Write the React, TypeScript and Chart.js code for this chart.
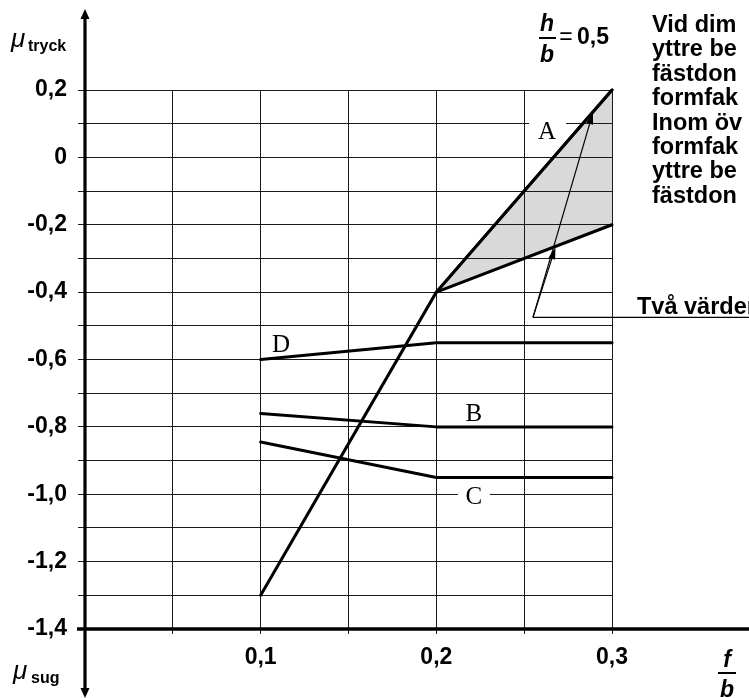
import React, { useEffect, useRef } from 'react';
import { Chart, registerables } from 'chart.js';

Chart.register(...registerables);

// ---- data ----
const lineX = [0.1, 0.2, 0.3];
const steepLineY = [-1.3, -0.4, 0.2];
const fanX = [0.2, 0.3];
const fanUpperY = [-0.4, 0.2];
const fanLowerY = [-0.4, -0.2];
const curveD = [-0.6, -0.55, -0.55];
const curveB = [-0.76, -0.8, -0.8];
const curveC = [-0.845, -0.95, -0.95];

const xTickValues = [0.1, 0.2, 0.3];
const xTickLabels = ['0,1', '0,2', '0,3'];
const yTickValues = [0.2, 0, -0.2, -0.4, -0.6, -0.8, -1.0, -1.2, -1.4];
const yTickLabels = ['0,2', '0', '-0,2', '-0,4', '-0,6', '-0,8', '-1,0', '-1,2', '-1,4'];

const curveNames = ['A', 'B', 'C', 'D'];
const noteLines = [
  'Vid dim',
  'yttre be',
  'fästdon',
  'formfak',
  'Inom öv',
  'formfak',
  'yttre be',
  'fästdon',
];
const twoValuesText = 'Två värden';

const SANS = '"Liberation Sans", Arial, Helvetica, sans-serif';
const SERIF = '"Liberation Serif", "Times New Roman", serif';
const GRID = '#1a1a1a';

function labelFor(v: number, values: number[], labels: string[]) {
  for (let i = 0; i < values.length; i++) {
    if (Math.abs(values[i] - v) < 1e-6) return labels[i];
  }
  return '';
}

function arrowHead(ctx: CanvasRenderingContext2D, x1: number, y1: number, x2: number, y2: number, len: number, half: number) {
  const a = Math.atan2(y2 - y1, x2 - x1);
  const c = Math.cos(a), s = Math.sin(a);
  ctx.beginPath();
  ctx.moveTo(x2, y2);
  ctx.lineTo(x2 - len * c + half * s, y2 - len * s - half * c);
  ctx.lineTo(x2 - len * c - half * s, y2 - len * s + half * c);
  ctx.closePath();
  ctx.fill();
}

function arrowLine(ctx: CanvasRenderingContext2D, x1: number, y1: number, x2: number, y2: number, len: number, half: number) {
  const a = Math.atan2(y2 - y1, x2 - x1);
  ctx.beginPath();
  ctx.moveTo(x1, y1);
  ctx.lineTo(x2 - Math.cos(a) * len * 0.7, y2 - Math.sin(a) * len * 0.7);
  ctx.stroke();
  arrowHead(ctx, x1, y1, x2, y2, len, half);
}

const overlayPlugin = {
  id: 'overlay',
  beforeDatasetsDraw(chart: any) {
    const { ctx, scales } = chart;
    const xs = scales.x, ys = scales.y;
    ctx.save();
    ctx.fillStyle = '#ffffff';
    // gaps in grid lines around labels A and C
    const ax = xs.getPixelForValue(0.263), ay = ys.getPixelForValue(0.1);
    ctx.fillRect(ax - 18, ay - 6, 37, 12);
    const cx = xs.getPixelForValue(0.2214), cy = ys.getPixelForValue(-1.0);
    ctx.fillRect(cx - 16, cy - 6, 32, 12);
    ctx.restore();
  },
  afterDatasetsDraw(chart: any) {
    const { ctx, scales } = chart;
    const xs = scales.x, ys = scales.y;
    ctx.save();
    ctx.fillStyle = '#000';
    ctx.font = `25px ${SERIF}`;
    ctx.textAlign = 'center';
    ctx.textBaseline = 'alphabetic';
    const pos: Record<string, [number, number]> = {
      A: [0.263, 0.08],
      B: [0.2214, -0.757],
      C: [0.2214, -1.003],
      D: [0.1116, -0.552],
    };
    curveNames.forEach((n) => {
      const [vx, vy] = pos[n];
      ctx.fillText(n, xs.getPixelForValue(vx), ys.getPixelForValue(vy) + 8.5);
    });

    // leader lines "Två värden"
    ctx.strokeStyle = '#000';
    ctx.lineWidth = 1.2;
    const lx = xs.getPixelForValue(0.255), ly = ys.getPixelForValue(-0.475);
    ctx.beginPath();
    ctx.moveTo(lx, ly);
    ctx.lineTo(chart.width, ly);
    ctx.stroke();
    arrowLine(ctx, lx, ly, xs.getPixelForValue(0.2892), ys.getPixelForValue(0.134), 12, 3.5);
    arrowLine(ctx, lx, ly, xs.getPixelForValue(0.2678), ys.getPixelForValue(-0.267), 12, 3.5);
    ctx.restore();
  },
  afterDraw(chart: any) {
    const { ctx, scales } = chart;
    const xs = scales.x, ys = scales.y;
    const x0 = xs.getPixelForValue(0);
    const yb = ys.getPixelForValue(-1.4);
    ctx.save();
    ctx.strokeStyle = '#000';
    ctx.fillStyle = '#000';
    // y axis with arrows at both ends
    ctx.lineWidth = 3.2;
    ctx.beginPath();
    ctx.moveTo(x0, 16);
    ctx.lineTo(x0, 690);
    ctx.stroke();
    arrowHead(ctx, x0, 30, x0, 9, 10, 4.5);
    arrowHead(ctx, x0, 680, x0, 698, 10, 4.5);
    // x axis
    ctx.lineWidth = 3.5;
    ctx.beginPath();
    ctx.moveTo(x0 - 8, yb);
    ctx.lineTo(chart.width, yb);
    ctx.stroke();

    // axis titles
    ctx.textAlign = 'left';
    ctx.textBaseline = 'alphabetic';
    ctx.font = `italic 26px ${SANS}`;
    ctx.fillText('μ', 11, 47);
    ctx.font = `bold 16px ${SANS}`;
    ctx.fillText('tryck', 28, 51);
    ctx.font = `italic 26px ${SANS}`;
    ctx.fillText('μ', 13, 679);
    ctx.font = `bold 16px ${SANS}`;
    ctx.fillText('sug', 31, 683);

    // f/b
    ctx.textAlign = 'center';
    ctx.font = `italic bold 23px ${SANS}`;
    ctx.fillText('f', 727, 667);
    ctx.fillText('b', 727, 697);
    ctx.lineWidth = 2;
    ctx.beginPath();
    ctx.moveTo(718, 673);
    ctx.lineTo(736, 673);
    ctx.stroke();

    // h/b = 0,5
    ctx.fillText('h', 547, 31);
    ctx.fillText('b', 547, 62);
    ctx.beginPath();
    ctx.moveTo(539, 38);
    ctx.lineTo(556, 38);
    ctx.stroke();
    ctx.font = `23px ${SANS}`;
    ctx.fillText('=', 566, 44);
    ctx.textAlign = 'left';
    ctx.font = `bold 23px ${SANS}`;
    ctx.fillText('0,5', 577, 44);

    // right-hand notes
    ctx.font = `bold 23.5px ${SANS}`;
    noteLines.forEach((t, i) => {
      ctx.fillText(t, 652, 32 + i * 24.4);
    });
    ctx.fillText(twoValuesText, 637, 314);
    ctx.restore();
  },
};

export default function App() {
  const ref = useRef<HTMLCanvasElement | null>(null);
  useEffect(() => {
    if (!ref.current) return;
    const black = '#000';
    const mk = (label: string, xs: number[], ys: number[], extra: any = {}) => ({
      label,
      data: xs.map((x, i) => ({ x, y: ys[i] })),
      borderColor: black,
      borderWidth: 3,
      pointRadius: 0,
      fill: false,
      clip: false,
      ...extra,
    });
    const chart = new Chart(ref.current, {
      type: 'line',
      data: {
        datasets: [
          mk('A', lineX, steepLineY),
          mk('A-upper', fanX, fanUpperY, { fill: '+1', backgroundColor: '#d9d9d9' }),
          mk('A-lower', fanX, fanLowerY),
          mk('D', lineX, curveD),
          mk('B', lineX, curveB),
          mk('C', lineX, curveC),
        ] as any,
      },
      options: {
        animation: false,
        responsive: false,
        devicePixelRatio: 1,
        elements: { line: { tension: 0, borderCapStyle: 'round', borderJoinStyle: 'round' } },
        layout: { padding: { left: 0, right: 137, top: 90, bottom: 0 } },
        plugins: {
          legend: { display: false },
          tooltip: { enabled: false },
          filler: { drawTime: 'beforeDraw' } as any,
        },
        scales: {
          x: {
            type: 'linear',
            min: 0,
            max: 0.3,
            afterFit: (s: any) => { s.height = 69; },
            grid: { color: GRID, lineWidth: 1, tickLength: 5, tickColor: GRID },
            border: { display: false },
            ticks: {
              stepSize: 0.05,
              autoSkip: false,
              maxRotation: 0,
              padding: 10,
              color: black,
              font: { family: SANS, size: 23, weight: 'bold' },
              callback: (v: any) => labelFor(Number(v), xTickValues, xTickLabels),
            },
          },
          y: {
            type: 'linear',
            min: -1.4,
            max: 0.2,
            afterFit: (s: any) => { s.width = 85; },
            grid: { color: GRID, lineWidth: 1, tickLength: 7, tickColor: GRID },
            border: { display: false },
            ticks: {
              stepSize: 0.1,
              autoSkip: false,
              padding: 11,
              color: black,
              font: { family: SANS, size: 23, weight: 'bold' },
              callback: (v: any) => labelFor(Number(v), yTickValues, yTickLabels),
            },
          },
        },
      } as any,
      plugins: [overlayPlugin],
    });
    return () => chart.destroy();
  }, []);
  return (
    <div style={{ position: 'fixed', left: 0, top: 0, width: 749, height: 698, background: '#fff' }}>
      <canvas ref={ref} width={749} height={698} style={{ display: 'block', width: 749, height: 698 }} />
    </div>
  );
}
